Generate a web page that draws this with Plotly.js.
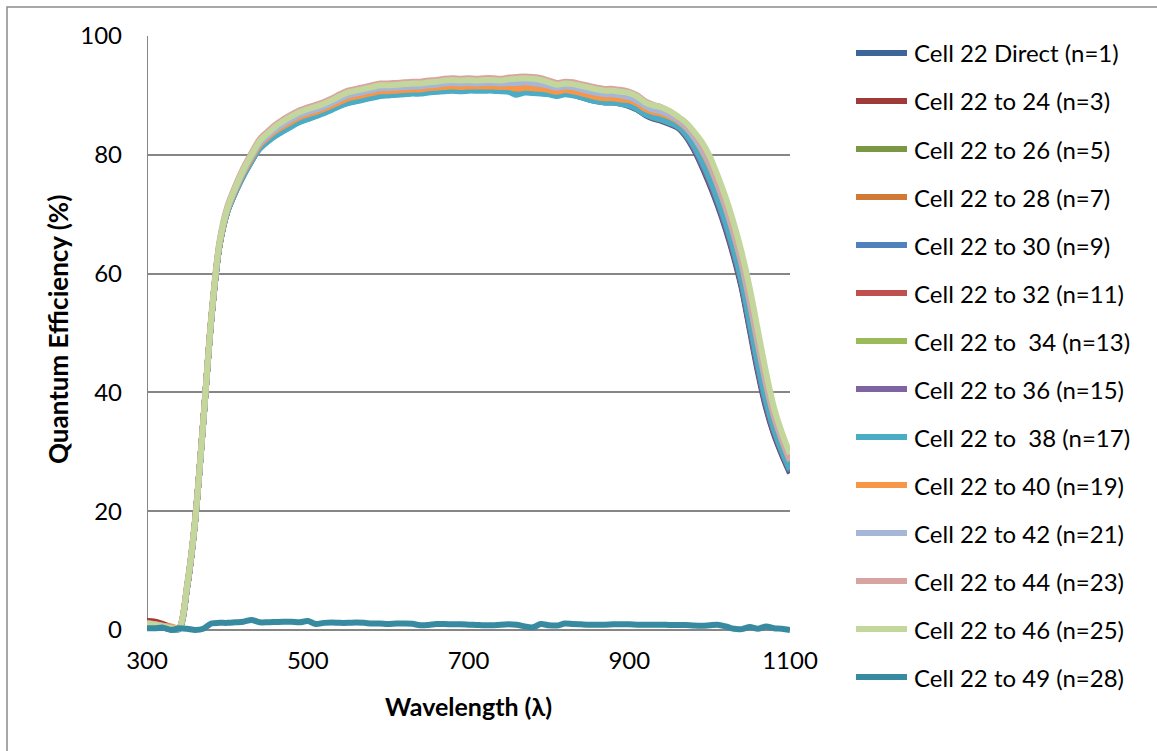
<!DOCTYPE html>
<html>
<head>
<meta charset="utf-8">
<script src="https://cdn.plot.ly/plotly-3.0.1.min.js"></script>
<style>
  html, body { margin: 0; padding: 0; background: #ffffff; }
  #chart { width: 1157px; height: 751px; }
</style>
</head>
<body>
<div id="chart"></div>
<script>
// ---------------- DATA ----------------
const wavelength = [300,310,320,330,340,350,360,370,380,390,400,410,420,430,440,450,460,470,480,490,500,510,520,530,540,550,560,570,580,590,600,610,620,630,640,650,660,670,680,690,700,710,720,730,740,750,760,770,780,790,800,810,820,830,840,850,860,870,880,890,900,910,920,930,940,950,960,970,980,990,1000,1010,1020,1030,1040,1050,1060,1070,1080,1090,1100];

const seriesNames = [
  "Cell 22 Direct (n=1)", "Cell 22 to 24 (n=3)", "Cell 22 to 26 (n=5)", "Cell 22 to 28 (n=7)",
  "Cell 22 to 30 (n=9)", "Cell 22 to 32 (n=11)", "Cell 22 to  34 (n=13)", "Cell 22 to 36 (n=15)",
  "Cell 22 to  38 (n=17)", "Cell 22 to 40 (n=19)", "Cell 22 to 42 (n=21)", "Cell 22 to 44 (n=23)",
  "Cell 22 to 46 (n=25)", "Cell 22 to 49 (n=28)"
];

const qeN1 = [0.9,0.7,0.4,0.2,0.3,7.3,18.5,35.0,52.3,64.6,70.5,73.8,76.6,79.0,81.1,82.3,83.3,84.1,84.9,85.6,86.1,86.6,87.1,87.7,88.3,88.8,89.1,89.4,89.7,90.0,90.1,90.2,90.3,90.4,90.4,90.6,90.7,90.8,90.9,90.8,90.9,90.9,90.9,90.9,90.8,90.8,90.4,90.6,90.5,90.4,90.3,90.0,90.3,90.1,89.7,89.3,89.0,88.8,88.8,88.6,88.2,87.6,86.7,86.1,85.7,85.2,84.6,83.2,81.0,78.2,75.0,71.5,67.5,62.9,57.5,50.5,43.5,37.5,33.0,29.5,26.4];
const qeN3 = [1.5,1.4,1.0,0.5,0.3,7.3,18.5,35.0,52.3,64.6,70.5,73.8,76.6,79.0,81.2,82.4,83.4,84.2,85.0,85.7,86.2,86.7,87.2,87.8,88.4,88.9,89.2,89.5,89.8,90.1,90.2,90.3,90.4,90.5,90.5,90.7,90.8,90.9,91.0,90.9,91.0,91.0,91.0,91.0,90.9,90.9,90.5,90.7,90.6,90.5,90.4,90.1,90.4,90.2,89.8,89.4,89.1,88.9,88.9,88.7,88.3,87.7,86.8,86.2,85.8,85.3,84.7,83.3,81.2,78.4,75.2,71.8,67.8,63.2,57.8,50.9,43.9,37.8,33.2,29.7,26.6];
const qeN5 = [1.0,0.8,0.5,0.2,0.3,7.3,18.5,35.0,52.3,64.7,70.6,73.9,76.7,79.2,81.3,82.5,83.5,84.3,85.1,85.8,86.3,86.8,87.3,87.9,88.5,89.1,89.4,89.7,90.0,90.3,90.3,90.4,90.5,90.6,90.6,90.8,90.9,91.1,91.2,91.1,91.2,91.1,91.2,91.2,91.1,91.1,90.8,90.9,90.8,90.7,90.6,90.3,90.6,90.4,90.0,89.6,89.3,89.1,89.1,88.9,88.5,87.9,87.0,86.4,86.0,85.5,84.9,83.5,81.5,78.8,75.7,72.3,68.3,63.8,58.4,51.6,44.5,38.4,33.7,30.1,26.9];
const qeN7 = [1.0,0.8,0.6,0.4,0.2,7.4,18.5,35.0,52.4,64.7,70.6,74.0,76.9,79.3,81.5,82.7,83.8,84.6,85.4,86.1,86.6,87.1,87.6,88.2,88.8,89.3,89.6,89.9,90.2,90.5,90.6,90.7,90.8,90.9,90.9,91.1,91.2,91.3,91.4,91.3,91.4,91.4,91.4,91.4,91.3,91.4,91.1,91.3,91.2,91.1,90.9,90.5,90.8,90.6,90.3,89.9,89.6,89.4,89.4,89.2,88.9,88.3,87.3,86.8,86.4,85.9,85.2,83.9,81.9,79.4,76.4,73.0,69.1,64.6,59.3,52.6,45.6,39.3,34.4,30.6,27.4];
const qeN9 = [0.8,0.6,0.4,0.1,0.2,7.2,18.4,35.0,52.3,64.6,70.5,73.9,76.7,79.1,81.2,82.4,83.4,84.3,85.1,85.8,86.3,86.8,87.3,87.8,88.5,89.0,89.3,89.6,89.9,90.2,90.3,90.4,90.5,90.6,90.6,90.8,90.9,91.0,91.1,91.0,91.1,91.1,91.1,91.1,91.0,91.0,90.6,90.8,90.7,90.6,90.5,90.2,90.5,90.3,89.9,89.5,89.2,89.0,89.0,88.8,88.4,87.8,86.9,86.3,85.9,85.4,84.8,83.4,81.3,78.6,75.5,72.0,68.0,63.5,58.1,51.2,44.2,38.1,33.5,29.9,26.7];
const qeN11 = [1.2,1.0,0.6,0.3,0.3,7.3,18.5,35.1,52.4,64.7,70.6,73.9,76.8,79.2,81.3,82.6,83.6,84.4,85.2,85.9,86.4,86.9,87.4,88.0,88.6,89.1,89.4,89.7,90.0,90.3,90.4,90.5,90.6,90.7,90.7,90.9,91.0,91.1,91.2,91.1,91.2,91.2,91.2,91.2,91.1,91.2,90.9,91.1,91.0,90.8,90.7,90.4,90.6,90.5,90.1,89.7,89.4,89.2,89.2,89.0,88.6,88.0,87.1,86.5,86.2,85.6,85.0,83.7,81.6,79.0,76.0,72.5,68.6,64.0,58.7,51.9,44.9,38.7,33.9,30.2,27.0];
const qeN13 = [0.9,0.8,0.5,0.3,0.3,7.4,18.6,35.1,52.4,64.7,70.6,74.0,76.8,79.3,81.4,82.6,83.7,84.5,85.3,86.0,86.5,87.0,87.5,88.1,88.7,89.2,89.5,89.8,90.1,90.4,90.5,90.6,90.7,90.8,90.8,91.0,91.1,91.2,91.3,91.2,91.3,91.3,91.3,91.3,91.2,91.3,91.0,91.2,91.1,91.0,90.8,90.5,90.7,90.6,90.2,89.8,89.5,89.3,89.3,89.1,88.8,88.2,87.2,86.6,86.3,85.8,85.1,83.8,81.8,79.2,76.2,72.8,68.8,64.3,59.0,52.3,45.3,39.0,34.1,30.4,27.2];
const qeN15 = [0.9,0.7,0.5,0.2,0.2,7.3,18.5,35.0,52.3,64.6,70.6,73.9,76.7,79.1,81.3,82.5,83.5,84.3,85.1,85.8,86.3,86.8,87.3,87.9,88.5,89.0,89.3,89.6,89.9,90.2,90.3,90.4,90.5,90.6,90.6,90.8,90.9,91.0,91.1,91.0,91.1,91.1,91.1,91.1,91.0,91.0,90.7,90.8,90.7,90.6,90.5,90.2,90.4,90.2,89.8,89.4,89.1,88.9,88.9,88.7,88.4,87.8,86.9,86.3,85.9,85.4,84.8,83.5,81.4,78.8,75.7,72.3,68.3,63.8,58.4,51.6,44.5,38.4,33.7,30.1,26.9];
const qeN17 = [0.8,0.8,0.6,0.3,0.1,7.2,18.4,34.9,52.2,64.5,70.4,73.7,76.5,78.9,81.0,82.2,83.2,84.0,84.8,85.5,86.0,86.5,87.0,87.6,88.2,88.7,89.0,89.3,89.6,89.9,90.0,90.1,90.2,90.3,90.3,90.5,90.6,90.7,90.8,90.7,90.8,90.8,90.8,90.8,90.7,90.6,90.1,90.5,90.4,90.3,90.2,89.9,90.2,90.0,89.7,89.3,89.0,88.8,88.8,88.6,88.3,87.7,86.8,86.3,85.9,85.4,84.8,83.6,81.6,79.0,76.0,72.5,68.6,64.0,58.7,51.9,44.9,38.7,33.9,30.2,27.0];
const qeN19 = [1.0,0.8,0.7,0.6,0.3,7.4,18.5,35.0,52.4,64.7,70.7,74.1,77.0,79.4,81.6,82.9,84.0,84.8,85.6,86.3,86.8,87.2,87.7,88.3,88.9,89.5,89.8,90.1,90.4,90.7,90.7,90.8,90.9,91.0,91.0,91.2,91.3,91.4,91.5,91.4,91.5,91.5,91.5,91.5,91.4,91.4,91.1,91.3,91.2,91.1,90.9,90.6,90.9,90.7,90.4,90.0,89.7,89.5,89.5,89.3,89.2,88.6,87.7,87.2,86.9,86.4,85.7,84.6,83.0,80.8,78.1,74.8,71.0,66.5,61.4,55.0,48.0,41.4,35.9,31.9,28.4];
const qeN21 = [1.0,0.8,0.5,0.3,0.3,7.4,18.5,35.0,52.4,64.9,70.8,74.3,77.2,79.7,81.9,83.2,84.3,85.2,86.0,86.7,87.2,87.6,88.1,88.7,89.4,90.0,90.3,90.6,90.9,91.2,91.2,91.3,91.4,91.5,91.5,91.7,91.8,92.0,92.1,92.0,92.1,92.0,92.1,92.1,92.0,92.1,92.1,92.2,92.1,91.9,91.6,91.3,91.5,91.4,91.0,90.7,90.4,90.2,90.2,90.0,89.7,89.1,88.2,87.6,87.3,86.7,85.9,84.8,83.1,81.0,78.4,75.0,71.2,66.8,61.7,55.4,48.4,41.7,36.2,32.1,28.6];
const qeN23 = [1.2,1.0,0.7,0.4,0.5,7.8,18.9,35.4,52.9,65.3,71.3,74.8,77.8,80.3,82.6,83.9,85.1,86.0,86.8,87.5,88.0,88.4,88.9,89.5,90.2,90.8,91.1,91.4,91.7,92.0,92.0,92.1,92.2,92.3,92.3,92.5,92.6,92.8,92.9,92.8,92.9,92.8,92.9,92.9,92.8,93.0,93.1,93.2,93.1,92.9,92.5,92.1,92.3,92.2,91.9,91.6,91.3,91.1,91.1,90.9,90.6,90.0,89.0,88.4,88.0,87.3,86.3,85.2,83.7,81.7,79.0,75.5,71.8,67.5,62.4,56.3,49.3,42.5,36.7,32.5,28.9];
const qeN25 = [1.1,0.9,0.6,0.3,0.4,7.5,18.5,35.0,52.5,65.0,71.0,74.5,77.5,80.0,82.3,83.6,84.8,85.7,86.5,87.2,87.7,88.1,88.6,89.2,89.9,90.5,90.8,91.1,91.4,91.7,91.7,91.8,91.9,92.0,92.0,92.2,92.3,92.5,92.6,92.5,92.6,92.5,92.6,92.6,92.5,92.7,92.8,92.9,92.8,92.6,92.2,91.8,92.0,91.9,91.6,91.3,91.0,90.8,90.8,90.6,90.4,89.8,88.8,88.3,88.0,87.4,86.5,85.5,84.0,82.2,79.8,76.5,72.8,68.5,63.5,57.5,50.5,43.5,37.5,33.2,29.6];
const qeN28 = [0.3,0.3,0.4,0.0,0.3,0.2,0.0,0.2,1.1,1.2,1.2,1.3,1.4,1.7,1.3,1.3,1.35,1.4,1.4,1.3,1.5,1.0,1.2,1.25,1.2,1.2,1.25,1.2,1.1,1.1,1.0,1.1,1.1,1.05,0.8,0.85,1.0,1.0,0.95,0.95,0.9,0.85,0.8,0.8,0.9,0.95,0.9,0.6,0.45,1.0,0.8,0.75,1.1,1.0,0.95,0.9,0.9,0.9,0.95,0.95,0.95,0.9,0.9,0.9,0.9,0.85,0.85,0.85,0.75,0.7,0.8,0.9,0.6,0.2,0.15,0.5,0.2,0.6,0.3,0.2,0.0];

const seriesValues = [qeN1, qeN3, qeN5, qeN7, qeN9, qeN11, qeN13, qeN15, qeN17, qeN19, qeN21, qeN23, qeN25, qeN28];

const seriesColors = ["#3C6699","#9E3B38","#7A9843","#D07A36","#4F81BD","#C0504D","#9BBB59","#8064A2","#4BACC6","#F79646","#A5B6D8","#D9A3A2","#C3D69B","#378A9F"];

const xTicks = [300, 500, 700, 900, 1100];
const yTicks = [0, 20, 40, 60, 80, 100];

// ---------------- CHART ----------------
const FONT = "Lato, 'Open Sans', sans-serif";
const LW = 6;

const traces = seriesNames.map((name, i) => ({
  type: "scatter",
  mode: "lines",
  name: name,
  x: wavelength,
  y: seriesValues[i],
  line: { color: seriesColors[i], width: LW, shape: "spline", smoothing: 0.8 },
  showlegend: false,
  hoverinfo: "x+y+name"
}));

// value 100 sits at px 36, value 0 at px 630; plot box extended a little below 0
// so lines lying on zero are not clipped.
const plotL = 147, plotR = 790, plotT = 36, zeroPx = 630, plotB = 636;
const unitPx = (zeroPx - plotT) / 100;
const yMin = -(plotB - zeroPx) / unitPx;
const pw = plotR - plotL, ph = plotB - plotT;
const px2x = p => (p - plotL) / pw;
const py2y = p => (plotB - p) / ph;

const shapes = [];
const annotations = [];

// chart-area border (only left/top edges visible in the frame)
shapes.push({
  type: "rect", xref: "paper", yref: "paper",
  x0: px2x(7), x1: px2x(1170), y0: py2y(770), y1: py2y(7),
  line: { color: "#8C8C8C", width: 1.5 }, fillcolor: "rgba(0,0,0,0)", layer: "below"
});
// vertical (value) axis line from 0 to 100
shapes.push({
  type: "line", xref: "x", yref: "y", x0: 300, x1: 300, y0: 0, y1: 100,
  line: { color: "#868686", width: 2 }, layer: "below"
});

// custom legend
const legTop = 53, legStep = 48;
seriesNames.forEach((name, i) => {
  const yy = py2y(legTop + i * legStep);
  shapes.push({
    type: "line", xref: "paper", yref: "paper",
    x0: px2x(856), x1: px2x(907), y0: yy, y1: yy,
    line: { color: seriesColors[i], width: LW }
  });
  annotations.push({
    xref: "paper", yref: "paper", x: px2x(912), y: yy,
    xanchor: "left", yanchor: "middle", showarrow: false,
    text: name.replace(/  /g, " &nbsp;"),
    font: { family: FONT, size: 24, color: "#000000" }
  });
});

// axis titles
annotations.push({
  xref: "paper", yref: "paper", x: px2x(58), y: py2y(330),
  xanchor: "center", yanchor: "middle", showarrow: false, textangle: -90,
  text: "Quantum Efficiency (%)",
  font: { family: FONT, size: 26, color: "#000000", weight: 700 }
});
annotations.push({
  xref: "paper", yref: "paper", x: px2x(468), y: py2y(706),
  xanchor: "center", yanchor: "middle", showarrow: false,
  text: "Wavelength (λ)",
  font: { family: FONT, size: 25, color: "#000000", weight: 700 }
});

const layout = {
  width: 1157, height: 751,
  margin: { l: plotL, r: 1157 - plotR, t: plotT, b: 751 - plotB, pad: 0 },
  paper_bgcolor: "#ffffff",
  plot_bgcolor: "#ffffff",
  showlegend: false,
  xaxis: {
    range: [300, 1100],
    tickvals: xTicks, ticktext: xTicks.map(String),
    showgrid: false, zeroline: false,
    showline: false,
    ticks: "", ticklabelstandoff: 8,
    tickfont: { family: FONT, size: 24, color: "#000000" },
    fixedrange: true
  },
  yaxis: {
    range: [yMin, 100],
    tickvals: yTicks, ticktext: yTicks.map(String),
    showgrid: true, gridcolor: "#868686", gridwidth: 2,
    zeroline: false,
    showline: false,
    ticks: "", ticklabelstandoff: 24,
    tickfont: { family: FONT, size: 24, color: "#000000" },
    fixedrange: true
  },
  shapes: shapes,
  annotations: annotations
};

Plotly.newPlot("chart", traces, layout, { displayModeBar: false, staticPlot: true });
</script>
</body>
</html>
